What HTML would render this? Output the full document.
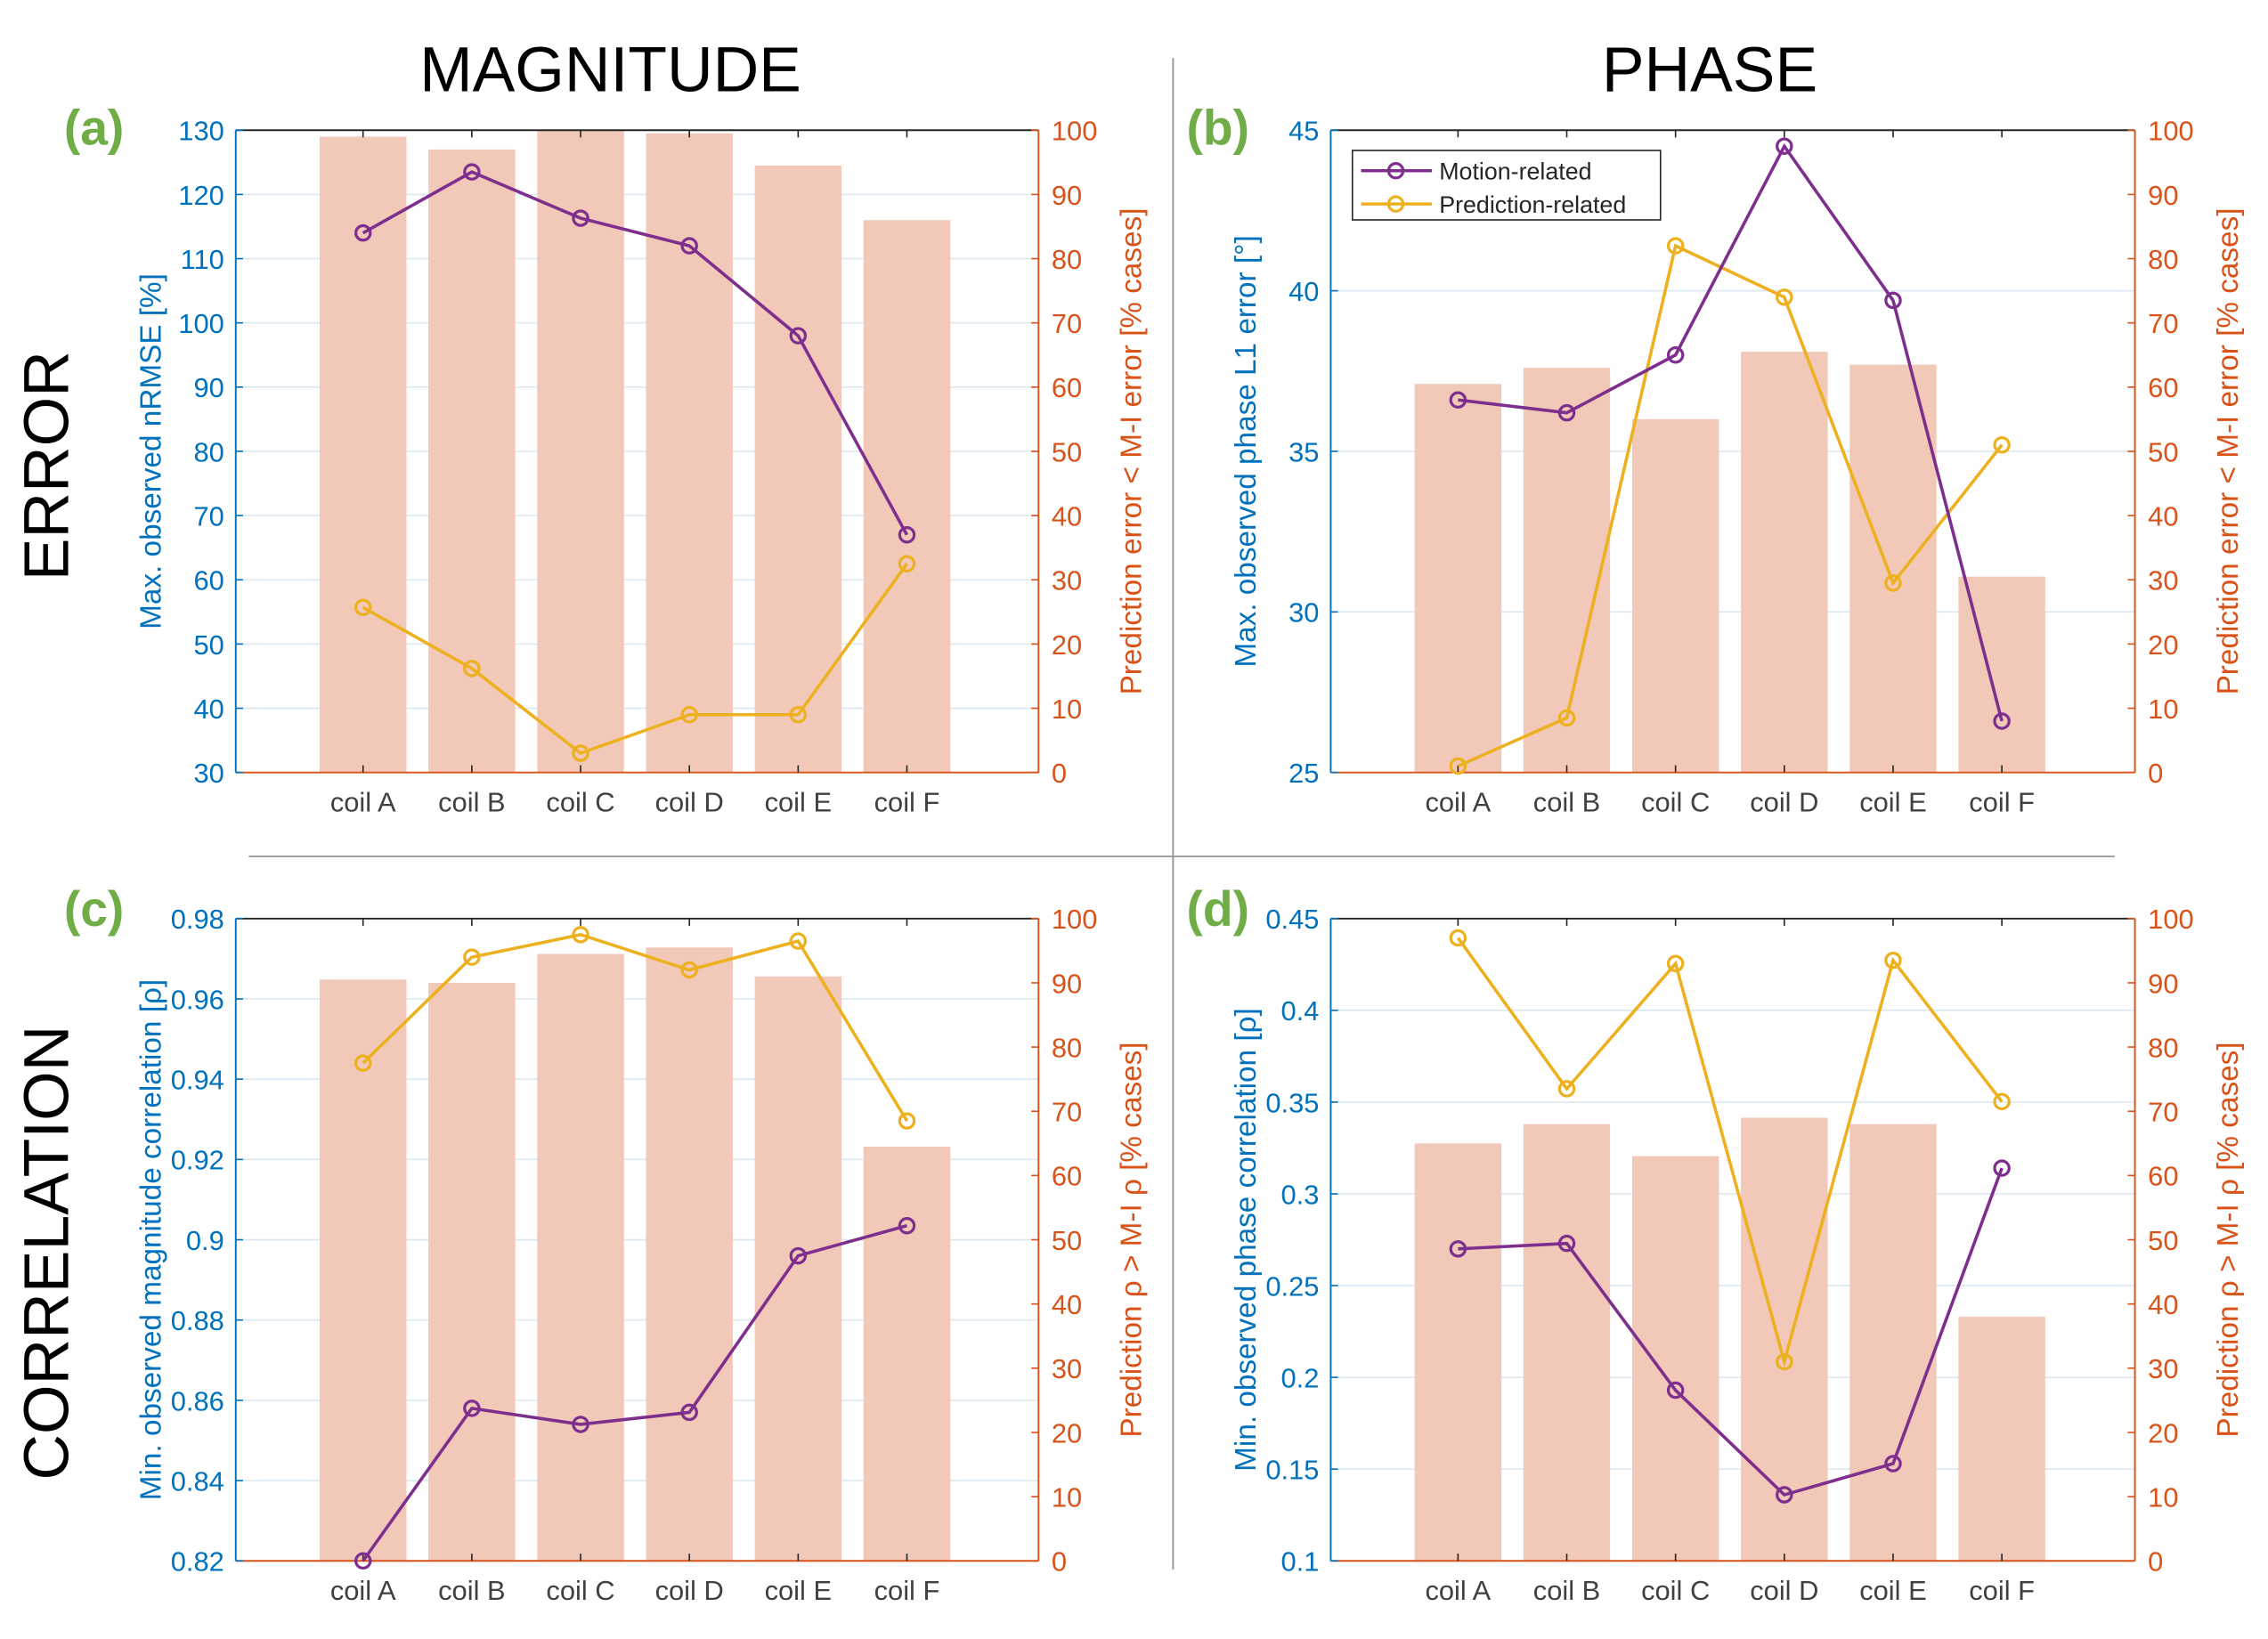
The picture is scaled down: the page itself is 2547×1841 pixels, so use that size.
<!DOCTYPE html>
<html><head><meta charset="utf-8"><style>
html,body{margin:0;padding:0;background:#fff;}
svg{display:block;font-family:"Liberation Sans",sans-serif;}
</style></head><body>
<svg id="fig" width="2547" height="1841" viewBox="0 0 1568 1133" preserveAspectRatio="none" xmlns="http://www.w3.org/2000/svg">
<text x="422" y="63" font-size="44" text-anchor="middle">MAGNITUDE</text>
<text x="1182" y="63" font-size="44" text-anchor="middle">PHASE</text>
<text transform="translate(47,322) rotate(-90)" font-size="44" text-anchor="middle">ERROR</text>
<text transform="translate(47,866) rotate(-90)" font-size="44" text-anchor="middle">CORRELATION</text>
<line x1="172" y1="592" x2="1462" y2="592" stroke="#999" stroke-width="1.2"/>
<line x1="811" y1="40" x2="811" y2="1085" stroke="#999" stroke-width="1.2"/>
<text x="65" y="100" font-size="34" font-weight="bold" fill="#70ad47" text-anchor="middle">(a)</text>
<text x="842" y="100" font-size="34" font-weight="bold" fill="#70ad47" text-anchor="middle">(b)</text>
<text x="65" y="640" font-size="34" font-weight="bold" fill="#70ad47" text-anchor="middle">(c)</text>
<text x="842" y="640" font-size="34" font-weight="bold" fill="#70ad47" text-anchor="middle">(d)</text>
</svg>
<script>
const categories = ["coil A","coil B","coil C","coil D","coil E","coil F"];
// panel a
const aMotion = [114,123.5,116.3,112,98,67];
const aPred = [25.7,16.2,3,9,9,32.5];
const aBars = [99,97,100,99.5,94.5,86];
const aLeftTicks = [30,40,50,60,70,80,90,100,110,120,130];
// panel b
const bMotion = [36.6,36.2,38,44.5,39.7,26.6];
const bPred = [1,8.5,82,74,29.5,51];
const bBars = [60.5,63,55,65.5,63.5,30.5];
const bLeftTicks = [25,30,35,40,45];
// panel c
const cMotion = [0.82,0.858,0.854,0.857,0.896,0.9035];
const cPred = [77.5,94,97.5,92,96.5,68.5];
const cBars = [90.5,90,94.5,95.5,91,64.5];
const cLeftTicks = [0.82,0.84,0.86,0.88,0.9,0.92,0.94,0.96,0.98];
// panel d
const dMotion = [0.27,0.273,0.193,0.136,0.153,0.314];
const dPred = [97,73.5,93,31,93.5,71.5];
const dBars = [65,68,63,69,68,38];
const dLeftTicks = [0.1,0.15,0.2,0.25,0.3,0.35,0.4,0.45];
const rightTicks = [0,10,20,30,40,50,60,70,80,90,100];

const NS="http://www.w3.org/2000/svg";
const svg=document.getElementById('fig');
function mk(tag,attrs,parent){const e=document.createElementNS(NS,tag);for(const k in attrs)e.setAttribute(k,attrs[k]);(parent||svg).appendChild(e);return e;}
const BLUE="#0072bd",ORANGE="#d95319",PURPLE="#7e2f8e",YELLOW="#edb120",BAR="#f2c9b8";

function panel(id,L,T,R,B,lmin,lmax,lticks,motion,pred,bars,ylabel,rlabel,legend){
  const g=mk('g',{});
  
  
  const x=i=>L+88+i*75.2;
  const yl=v=>B-(v-lmin)/(lmax-lmin)*(B-T);
  const yr=v=>B-v/100*(B-T);
  lticks.forEach(t=>{const l=mk('line',{x1:L,x2:R,y1:yl(t),y2:yl(t),stroke:"#dce8f1","stroke-width":1},g);
    
    });
  bars.forEach((v,i)=>{const r=mk('rect',{x:x(i)-30,y:yr(v),width:60,height:B-yr(v),fill:BAR},g);
    
    });
  mk('line',{x1:L,x2:R,y1:T,y2:T,stroke:"#262626","stroke-width":1.2},g);
  const bx=mk('line',{x1:L,x2:R,y1:B,y2:B,stroke:ORANGE,"stroke-width":1.2},g);
  
  
  const la=mk('line',{x1:L,x2:L,y1:T,y2:B,stroke:BLUE,"stroke-width":1.2},g);
  
  
  const ra=mk('line',{x1:R,x2:R,y1:T,y2:B,stroke:ORANGE,"stroke-width":1.2},g);
  
  
  categories.forEach((c,i)=>{
    mk('line',{x1:x(i),x2:x(i),y1:B,y2:B-5,stroke:"#262626","stroke-width":1},g);
    mk('line',{x1:x(i),x2:x(i),y1:T,y2:T+5,stroke:"#262626","stroke-width":1},g);
    const t=mk('text',{x:x(i),y:B+27,"font-size":19,fill:"#404040","text-anchor":"middle"},g);
    t.textContent=c;
    
    
  });
  lticks.forEach(v=>{
    mk('line',{x1:L,x2:L+5,y1:yl(v),y2:yl(v),stroke:BLUE},g);
    const t=mk('text',{x:L-8,y:yl(v)+7,"font-size":19,fill:BLUE,"text-anchor":"end"},g);
    t.textContent=String(v);
    
    
  });
  rightTicks.forEach(v=>{
    mk('line',{x1:R,x2:R-5,y1:yr(v),y2:yr(v),stroke:ORANGE},g);
    const t=mk('text',{x:R+9,y:yr(v)+7,"font-size":19,fill:ORANGE,"text-anchor":"start"},g);
    t.textContent=String(v);
    
    
  });
  const yt=mk('text',{transform:`translate(${L-52},${(T+B)/2}) rotate(-90)`,"font-size":20.5,fill:BLUE,"text-anchor":"middle"},g);
  yt.textContent=ylabel;
  
  
  const rt=mk('text',{transform:`translate(${R+71},${(T+B)/2}) rotate(-90)`,"font-size":20.5,fill:ORANGE,"text-anchor":"middle"},g);
  rt.textContent=rlabel;
  
  
  function series(vals,yf,col,name){
    const pl=mk('polyline',{points:vals.map((v,i)=>x(i)+','+yf(v)).join(' '),fill:"none",stroke:col,"stroke-width":2.2},g);
    
    
    vals.forEach((v,i)=>{const c=mk('circle',{cx:x(i),cy:yf(v),r:5,fill:"none",stroke:col,"stroke-width":2},g);
      
      });
  }
  series(pred,yr,YELLOW,'prediction-related');
  series(motion,yl,PURPLE,'motion-related');
  if(legend){
    const lg=mk('g',{},g);
    
    
    mk('rect',{x:935,y:104,width:213,height:48,fill:"#fff",stroke:"#262626","stroke-width":1},lg);
    [["Motion-related",PURPLE,118],["Prediction-related",YELLOW,141]].forEach(([n,c,yy])=>{
      mk('line',{x1:941,x2:990,y1:yy,y2:yy,stroke:c,"stroke-width":2.2},lg);
      mk('circle',{cx:965,cy:yy,r:5,fill:"none",stroke:c,"stroke-width":2},lg);
      const t=mk('text',{x:995,y:yy+6,"font-size":16.5,fill:"#262626"},lg);
      t.textContent=n;
      
      
    });
  }
}
panel('a',163,90,718,534,30,130,aLeftTicks,aMotion,aPred,aBars,"Max. observed nRMSE [%]","Prediction error < M-I error [% cases]",false);
panel('b',920,90,1476,534,25,45,bLeftTicks,bMotion,bPred,bBars,"Max. observed phase L1 error [°]","Prediction error < M-I error [% cases]",true);
panel('c',163,635,718,1079,0.82,0.98,cLeftTicks,cMotion,cPred,cBars,"Min. observed magnitude correlation [ρ]","Prediction ρ > M-I ρ [% cases]",false);
panel('d',920,635,1476,1079,0.1,0.45,dLeftTicks,dMotion,dPred,dBars,"Min. observed phase correlation [ρ]","Prediction ρ > M-I ρ [% cases]",false);
</script>
</body></html>
